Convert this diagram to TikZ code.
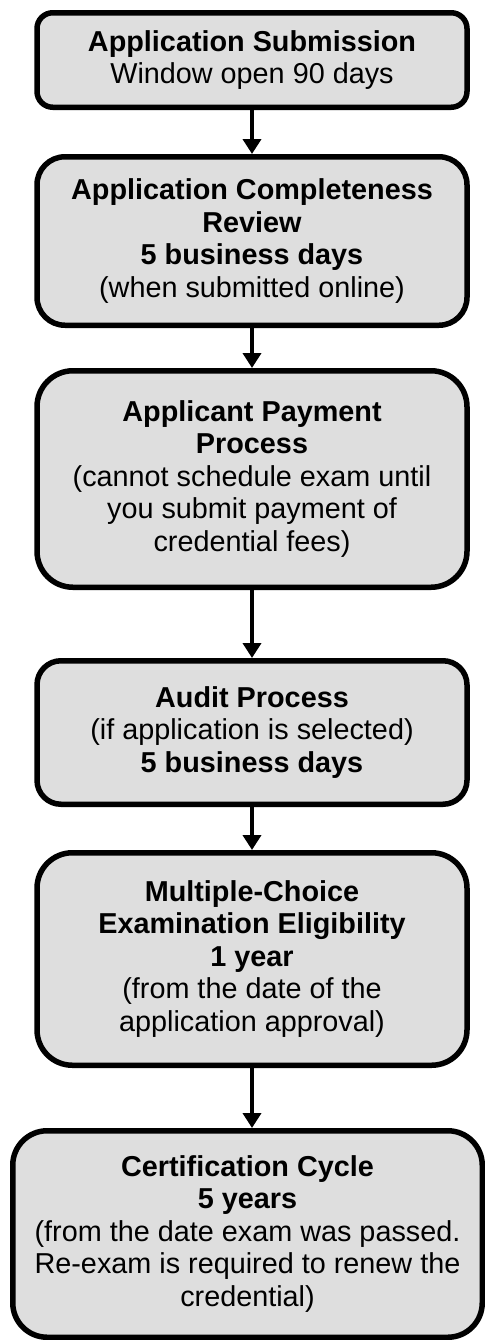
\documentclass[tikz,border=0pt]{standalone}
\usepackage{fontspec}
\setmainfont{Liberation Sans}
\usepackage{xcolor}
\usetikzlibrary{arrows.meta,positioning}
\definecolor{boxgray}{RGB}{222,222,222}

\begin{document}
\begin{tikzpicture}[
  x=0.5pt, y=-0.5pt,
  >={Triangle[width=9pt,length=7.5pt]},
  phase/.style={
    draw=black, fill=boxgray, line width=2.75pt, align=center,
    inner sep=2pt, minimum width=215pt,
    font=\fontsize{14.4}{16.25}\selectfont
  },
  arrow/.style={->, line width=2.25pt, black}
]

\useasboundingbox (0,0) rectangle (485,1340);

% Step 1: submission
\node[phase, minimum height=47.25pt, rounded corners=7.9pt] (b1) at (252,60) {
  {\bfseries Application Submission}\\
  Window open 90 days
};

% Step 2: completeness review
\node[phase, minimum height=84.25pt, rounded corners=14pt] (b2) at (252,241) {
  {\bfseries Application Completeness}\\
  {\bfseries Review}\\
  {\bfseries 5 business days}\\
  (when submitted online)
};

% Step 3: payment
\node[phase, minimum height=108.25pt, rounded corners=18pt] (b3) at (252,479) {
  {\bfseries Applicant Payment}\\
  {\bfseries Process}\\
  (cannot schedule exam until\\
  you submit payment of\\
  credential fees)
};

% Step 4: audit
\node[phase, minimum height=71.75pt, rounded corners=12pt] (b4) at (252,732.5) {
  {\bfseries Audit Process}\\
  (if application is selected)\\
  {\bfseries 5 business days}
};

% Step 5: exam eligibility
\node[phase, minimum height=106.25pt, rounded corners=17.7pt] (b5) at (252,959) {
  {\bfseries Multiple-Choice}\\
  {\bfseries Examination Eligibility}\\
  {\bfseries 1 year}\\
  (from the date of the\\
  application approval)
};

% Step 6: certification cycle
\node[phase, minimum width=234.75pt, minimum height=103.25pt, rounded corners=17.2pt] (b6) at (247.5,1234) {
  {\bfseries Certification Cycle}\\
  {\bfseries 5 years}\\
  (from the date exam was passed.\\
  Re-exam is required to renew the\\
  credential)
};

% Connecting Arrows
\draw[arrow] (b1) -- (b2);
\draw[arrow] (b2) -- (b3);
\draw[arrow] (b3) -- (b4);
\draw[arrow] (b4) -- (b5);
\draw[arrow] (b5.south) -- (b5.south |- b6.north);

\end{tikzpicture}
\end{document}
